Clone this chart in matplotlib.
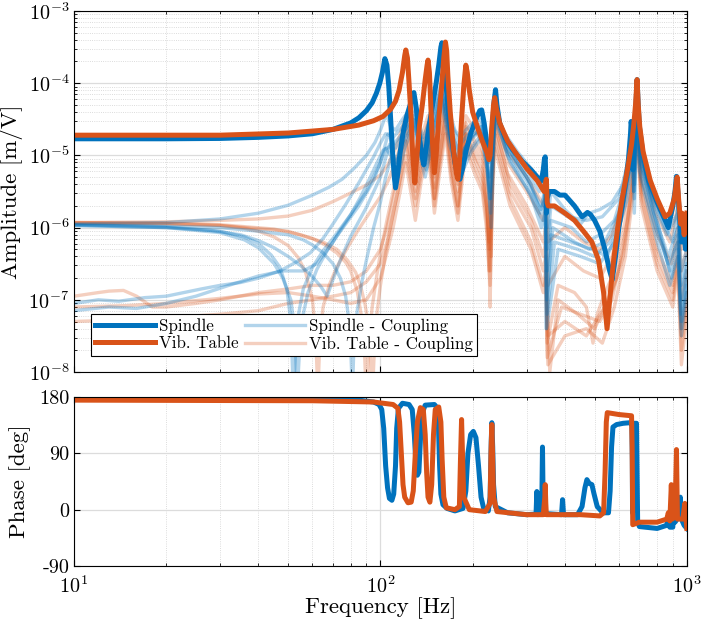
import numpy as np
import matplotlib
matplotlib.use("Agg")
import matplotlib.pyplot as plt
from matplotlib.ticker import LogLocator, NullFormatter, FixedLocator

plt.rcParams['font.family'] = 'serif'
plt.rcParams['font.serif'] = ['cmr10', 'DejaVu Serif']
plt.rcParams['mathtext.fontset'] = 'cm'
plt.rcParams['axes.unicode_minus'] = False
plt.rcParams['axes.formatter.use_mathtext'] = True

BLUE = '#0072BD'
ORANGE = '#D95319'

# ---------------- data: (frequency [Hz], log10 amplitude [m/V]) ----------------
spindle_amp = [(10,-4.77),(20,-4.77),(30,-4.765),(40,-4.75),(50,-4.73),(60,-4.70),(70,-4.64),(80,-4.55),
    (85,-4.48),(90,-4.38),(94,-4.27),(97,-4.14),(99.5,-4.0),(101.5,-3.85),(103.4,-3.66),(105,-3.75),
    (106.5,-4.05),(108,-4.5),(109.5,-4.95),(111,-5.3),(112,-5.45),(113.5,-5.3),(116,-4.95),(119,-4.65),
    (122,-4.45),(125,-4.3),(128.6,-4.13),(131,-4.35),(134,-4.75),(136.5,-5.0),(138.6,-5.13),(141,-4.9),
    (144,-4.6),(148,-4.3),(152,-4.0),(155,-3.75),(157.5,-3.5),(158.7,-3.44),(160.5,-3.6),(163,-3.95),
    (166,-4.3),(170,-4.7),(175,-5.1),(179,-5.3),(181.6,-5.33),(185,-5.2),(190,-4.95),(197,-4.7),(205,-4.5),
    (211,-4.38),(214,-4.37),(218,-4.55),(222,-4.8),(226,-5.0),(229,-4.95),(232,-4.6),(235,-4.25),
    (237.5,-4.09),(240,-4.3),(245,-4.55),(255,-4.75),(270,-4.92),(290,-5.08),(310,-5.2),(325,-5.3),
    (335,-5.35),(340,-5.2),(343,-5.05),(345,-5.02),(346.5,-5.3),(348,-5.8),(350,-5.6),(355,-5.5),(370,-5.5),
    (385,-5.55),(400,-5.55),(410,-5.6),(430,-5.7),(455,-5.85),(465,-5.82),(474,-5.79),(485,-5.82),
    (500,-5.9),(520,-6.05),(540,-6.3),(560,-6.6),(571,-6.72),(585,-6.4),(600,-6.0),(615,-5.7),(630,-5.4),
    (645,-5.05),(655,-4.7),(658,-4.53),(661,-4.6),(664,-5.0),(667,-5.2),(672,-4.95),(678,-4.6),(684,-4.2),
    (688,-3.95),(693,-4.25),(700,-4.6),(720,-5.0),(750,-5.35),(800,-5.65),(850,-5.9),(870,-6.0),(880,-5.9),
    (900,-5.7),(915,-5.5),(925,-5.29),(935,-5.5),(945,-5.8),(960,-6.2),(975,-6.0),(990,-6.3),(1000,-6.07)]
table_amp = [(10,-4.72),(30,-4.72),(50,-4.69),(70,-4.64),(85,-4.58),(95,-4.52),(102,-4.46),(108,-4.36),
    (112,-4.25),(115,-4.1),(118,-3.85),(120,-3.62),(121,-3.54),(122.5,-3.65),(124,-4.0),(126,-4.5),
    (127.5,-5.0),(129.5,-5.38),(131,-5.1),(134,-4.6),(137,-4.3),(140,-3.95),(142,-3.75),(143,-3.68),
    (144.5,-3.85),(146,-4.3),(148,-4.85),(150,-5.24),(152,-5.0),(155,-4.5),(158,-4.1),(161,-3.65),
    (163,-3.43),(164.5,-3.55),(166,-3.9),(169,-4.4),(173,-4.9),(177,-5.25),(179,-5.33),(181,-5.1),
    (184,-4.5),(187,-4.05),(190,-3.75),(192,-3.85),(195,-4.1),(200,-4.4),(207,-4.6),(215,-4.8),(222,-4.95),
    (226,-5.06),(228,-5.0),(231,-4.6),(234,-4.3),(236,-4.2),(239,-4.35),(245,-4.55),(260,-4.8),(280,-5.0),
    (300,-5.18),(325,-5.35),(342,-5.5),(345,-5.4),(348,-5.33),(350,-5.65),(353,-5.7),(370,-5.7),(400,-5.8),
    (430,-5.9),(460,-6.05),(490,-6.2),(515,-6.45),(535,-6.9),(549,-7.4),(560,-7.0),(575,-6.5),(595,-6.0),
    (615,-5.6),(640,-5.2),(660,-4.85),(672,-4.55),(680,-4.3),(688,-3.95),(694,-4.3),(702,-4.6),(720,-4.95),
    (760,-5.35),(800,-5.6),(850,-5.85),(880,-5.8),(910,-5.6),(930,-5.3),(940,-5.6),(955,-5.95),(965,-5.8),
    (980,-6.1),(1000,-5.8)]

spindle_coupling_amp = [
    [(10,-5.95),(20,-5.93),(30,-5.88),(40,-5.8),(50,-5.69),(60,-5.55),(68,-5.44),(75,-5.33),(82,-5.18),
     (90,-5.0),(96,-4.82),(100,-4.65),(103,-4.5),(105,-4.45),(108,-4.6),(112,-4.65),(118,-4.5),(128,-4.3),
     (133,-4.55),(138,-4.75),(144,-4.55),(150,-4.3),(158,-4.0),(163,-4.2),(168,-4.4),(175,-4.65),(182,-4.75),
     (190,-4.65),(200,-4.55),(214,-4.5),(220,-4.75),(226,-5.1),(232,-4.6),(237,-4.3),(250,-4.65),(280,-4.95),
     (320,-5.25),(340,-5.4),(345,-5.15),(350,-6.0),(360,-5.5),(400,-5.75),(450,-5.95),(480,-5.8),(520,-5.75),
     (570,-5.65),(620,-5.4),(645,-5.1),(660,-4.8),(666,-4.6),(670,-5.2),(680,-4.7),(688,-4.25),(700,-4.9),
     (760,-5.5),(850,-6.0),(900,-6.2),(935,-5.7),(955,-6.6),(1000,-6.3)],
    [(10,-5.96),(20,-5.99),(30,-6.05),(36,-6.13),(40,-6.22),(44,-6.38),(47,-6.55),(49.5,-6.85),(51,-7.3),
     (52,-8.3),(53.5,-7.3),(56,-6.85),(60,-6.55),(65,-6.32),(70,-6.15),(80,-5.82),(90,-5.5),(100,-5.1),
     (106,-4.7),(112,-4.9),(120,-4.65),(128,-4.45),(134,-4.75),(140,-5.0),(148,-4.55),(158,-4.1),(168,-4.6),
     (182,-5.0),(198,-4.75),(214,-4.6),(222,-5.0),(228,-5.6),(233,-4.8),(237,-4.35),(260,-4.9),(300,-5.3),
     (335,-5.7),(345,-5.45),(350,-6.6),(360,-5.9),(420,-6.0),(470,-6.2),(520,-6.1),(580,-5.9),(640,-5.3),
     (666,-4.7),(675,-5.4),(688,-4.3),(700,-5.0),(780,-5.8),(870,-6.4),(935,-6.0),(955,-7.0),(1000,-6.5)],
    [(10,-5.97),(20,-6.0),(30,-6.07),(36,-6.17),(40,-6.28),(45,-6.5),(48,-6.7),(51,-7.0),(52.5,-7.4),
     (53.5,-8.3),(55,-7.35),(58,-6.9),(62,-6.58),(67,-6.32),(72,-6.12),(85,-5.7),(95,-5.35),(104,-4.9),
     (112,-5.1),(120,-4.75),(128,-4.5),(135,-4.9),(141,-5.2),(150,-4.6),(158,-4.15),(168,-4.7),(180,-5.1),
     (196,-4.8),(212,-4.65),(222,-5.1),(229,-5.8),(234,-4.9),(237,-4.4),(270,-5.0),(310,-5.4),(333,-5.8),
     (345,-5.5),(349,-7.0),(365,-6.0),(430,-6.2),(480,-6.3),(540,-6.2),(600,-5.8),(650,-5.2),(666,-4.75),
     (674,-5.6),(688,-4.35),(705,-5.1),(800,-6.0),(880,-6.6),(935,-6.1),(955,-7.2),(1000,-6.6)],
    [(10,-5.97),(20,-6.0),(28,-6.04),(35,-6.1),(40,-6.18),(45,-6.28),(50,-6.4),(55,-6.53),(60,-6.68),
     (64,-6.82),(67,-6.95),(70,-6.72),(74,-6.45),(80,-6.12),(90,-5.72),(100,-5.3),(107,-4.85),(113,-5.1),
     (120,-4.8),(128,-4.55),(134,-4.85),(140,-5.1),(148,-4.7),(158,-4.2),(168,-4.75),(182,-5.2),(198,-4.9),
     (214,-4.7),(222,-5.05),(228,-5.5),(233,-4.9),(237,-4.45),(260,-5.0),(300,-5.45),(338,-5.9),(345,-5.7),
     (350,-7.2),(370,-6.2),(440,-6.3),(500,-6.4),(560,-6.2),(620,-5.7),(660,-5.0),(670,-5.5),(688,-4.4),
     (700,-5.2),(790,-6.0),(870,-6.5),(935,-6.2),(960,-7.3),(1000,-6.7)],
    [(10,-5.96),(20,-5.98),(30,-6.0),(40,-6.05),(50,-6.1),(56,-6.17),(60,-6.24),(65,-6.35),(70,-6.5),
     (74,-6.7),(77,-6.95),(79,-7.3),(80.2,-7.8),(81,-8.3),(82,-7.6),(84,-7.15),(87,-6.75),(90,-6.45),
     (95,-6.0),(100,-5.65),(104,-5.3),(108,-5.05),(114,-5.3),(120,-4.9),(128,-4.6),(134,-4.95),(140,-5.3),
     (148,-4.8),(158,-4.25),(168,-4.85),(182,-5.3),(198,-4.95),(214,-4.75),(223,-5.2),(230,-6.0),(234,-5.0),
     (237,-4.5),(265,-5.1),(310,-5.55),(335,-6.0),(345,-5.8),(349,-7.4),(380,-6.3),(450,-6.4),(520,-6.5),
     (580,-6.2),(640,-5.6),(666,-4.9),(674,-5.8),(688,-4.45),(705,-5.3),(800,-6.2),(880,-6.8),(935,-6.4),
     (960,-7.5),(1000,-6.9)],
    [(10,-7.05),(12,-7.0),(14,-7.02),(17,-6.97),(20,-6.95),(26,-6.85),(30,-6.8),(35,-6.76),(40,-6.7),
     (47,-6.6),(53,-6.48),(59,-6.35),(65,-6.15),(70,-5.95),(77,-5.68),(85,-5.38),(95,-5.02),(100,-4.83),
     (104,-4.7),(110,-4.75),(118,-4.6),(128,-4.4),(134,-4.65),(139,-4.85),(148,-4.45),(158,-4.05),(168,-4.5),
     (182,-4.85),(198,-4.65),(214,-4.55),(221,-4.85),(227,-5.3),(232,-4.7),(237,-4.3),(255,-4.8),(290,-5.15),
     (330,-5.5),(345,-5.3),(350,-6.3),(360,-5.7),(410,-5.85),(470,-5.9),(530,-5.85),(600,-5.6),(650,-5.0),
     (666,-4.55),(672,-5.0),(688,-4.2),(700,-4.9),(770,-5.6),(860,-6.1),(935,-5.8),(957,-6.8),(1000,-6.4)],
    [(10,-7.15),(13,-7.1),(16,-7.12),(20,-7.05),(25,-6.95),(32,-6.8),(40,-6.67),(48,-6.6),(56,-6.6),
     (62,-6.5),(66,-6.35),(70,-6.2),(75,-6.0),(80,-5.82),(86,-5.58),(92,-5.33),(97,-5.12),(102,-4.93),
     (110,-4.85),(118,-4.7),(128,-4.5),(134,-4.8),(140,-5.0),(148,-4.6),(158,-4.1),(168,-4.6),(182,-5.0),
     (198,-4.75),(214,-4.6),(222,-5.0),(228,-5.6),(233,-4.85),(237,-4.4),(260,-4.95),(300,-5.35),(334,-5.75),
     (345,-5.6),(347,-7.4),(360,-6.1),(420,-6.2),(490,-6.3),(550,-6.4),(610,-5.9),(655,-5.1),(666,-4.8),
     (672,-5.5),(688,-4.3),(705,-5.1),(800,-5.9),(890,-6.7),(935,-6.3),(958,-7.4),(1000,-6.8)],
]

table_coupling_amp = [
    [(10,-5.93),(20,-5.92),(30,-5.9),(40,-5.88),(50,-5.84),(60,-5.76),(70,-5.64),(80,-5.52),(90,-5.41),
     (100,-5.27),(106,-5.12),(112,-4.9),(117,-4.65),(121,-4.45),(124,-4.6),(127,-4.9),(130,-5.15),(136,-4.75),
     (143,-4.45),(147,-4.85),(150,-5.15),(156,-4.6),(163,-4.2),(170,-4.7),(179,-5.2),(185,-4.8),(190,-4.45),
     (200,-4.6),(210,-4.75),(222,-5.2),(226,-5.5),(230,-6.4),(233,-4.9),(236,-4.4),(255,-4.9),(300,-5.3),
     (342,-5.7),(346,-5.5),(352,-6.2),(400,-6.0),(460,-6.2),(520,-6.3),(570,-6.1),(620,-5.6),(660,-5.0),
     (688,-4.3),(710,-5.0),(780,-5.6),(870,-6.0),(935,-5.5),(960,-6.3),(1000,-6.1)],
    [(10,-5.93),(20,-5.94),(30,-5.97),(36,-6.01),(40,-6.05),(45,-6.13),(50,-6.25),(54,-6.42),(57,-6.62),
     (60,-7.0),(61.5,-7.5),(62.5,-8.3),(63.5,-7.5),(65,-7.1),(68,-6.8),(72,-6.55),(78,-6.28),(85,-6.02),
     (92,-5.8),(100,-5.57),(106,-5.35),(112,-5.1),(117,-4.8),(121,-4.55),(125,-4.85),(130,-5.3),(136,-4.9),
     (143,-4.55),(147,-4.95),(150,-5.3),(156,-4.75),(163,-4.3),(170,-4.85),(179,-5.4),(185,-4.95),(190,-4.55),
     (203,-4.8),(215,-5.0),(222,-5.4),(225,-6.0),(228,-7.1),(232,-5.2),(236,-4.5),(260,-5.1),(300,-5.5),
     (340,-5.9),(346,-5.7),(352,-6.8),(400,-6.4),(460,-6.6),(520,-6.7),(570,-6.4),(620,-5.8),(660,-5.1),
     (688,-4.35),(710,-5.1),(790,-5.8),(880,-6.2),(935,-5.7),(960,-6.6),(1000,-6.3)],
    [(10,-5.93),(20,-5.94),(30,-5.96),(45,-6.02),(55,-6.1),(60,-6.15),(66,-6.24),(72,-6.35),(77,-6.48),
     (80,-6.6),(84,-6.88),(86.5,-7.2),(88.5,-7.6),(90,-8.4),(91.5,-7.6),(94,-7.1),(97,-6.7),(100,-6.35),
     (105,-5.9),(110,-5.5),(116,-5.0),(121,-4.65),(125,-5.0),(130,-5.4),(136,-5.0),(143,-4.6),(147,-5.05),
     (150,-5.45),(156,-4.85),(163,-4.35),(170,-4.95),(179,-5.5),(185,-5.0),(190,-4.6),(203,-4.9),(215,-5.1),
     (222,-5.6),(226,-6.2),(231,-5.2),(236,-4.55),(260,-5.25),(300,-5.7),(340,-6.2),(346,-6.0),(350,-7.6),
     (380,-6.8),(430,-6.9),(470,-7.1),(494,-7.6),(510,-7.2),(530,-7.0),(580,-6.6),(630,-5.9),(665,-5.2),
     (688,-4.45),(710,-5.3),(800,-6.1),(890,-6.5),(935,-6.0),(960,-7.0),(1000,-6.6)],
    [(10,-5.94),(20,-5.95),(30,-5.97),(50,-6.05),(65,-6.2),(72,-6.3),(78,-6.45),(83,-6.62),(86,-6.8),
     (89,-7.05),(91,-7.3),(92.8,-7.8),(94,-8.4),(95.3,-7.8),(97,-7.25),(100,-6.8),(104,-6.35),(109,-5.9),
     (114,-5.5),(118,-5.1),(121,-4.8),(125,-5.2),(130,-5.6),(136,-5.15),(143,-4.7),(147,-5.15),(150,-5.6),
     (156,-5.0),(163,-4.45),(170,-5.1),(179,-5.7),(185,-5.1),(190,-4.7),(203,-5.0),(215,-5.2),(223,-5.8),
     (228,-6.6),(232,-5.3),(236,-4.6),(265,-5.4),(310,-5.9),(340,-6.4),(346,-6.2),(357,-8.0),(380,-7.0),
     (440,-7.2),(500,-7.4),(540,-7.1),(590,-6.7),(640,-5.9),(670,-5.2),(688,-4.55),(710,-5.4),(800,-6.3),
     (900,-6.8),(935,-6.2),(960,-7.4),(1000,-6.9)],
    [(10,-6.95),(12,-6.9),(13,-6.88),(14.5,-6.87),(16,-6.95),(18,-7.1),(20,-7.1),(25,-7.05),(30,-7.0),
     (40,-6.9),(50,-6.85),(60,-6.8),(70,-6.8),(80,-6.75),(90,-6.6),(100,-6.3),(105,-6.0),(110,-5.6),
     (116,-5.15),(121,-4.8),(125,-5.1),(130,-5.5),(136,-5.1),(143,-4.8),(147,-5.2),(150,-5.6),(156,-5.05),
     (163,-4.5),(170,-5.15),(179,-5.7),(185,-5.15),(190,-4.7),(203,-5.05),(215,-5.3),(222,-5.7),(227,-6.3),
     (232,-5.3),(236,-4.7),(265,-5.5),(310,-6.0),(340,-6.6),(346,-6.4),(350,-7.8),(390,-7.1),(450,-7.2),
     (520,-7.3),(570,-7.0),(620,-6.3),(660,-5.5),(688,-4.6),(710,-5.5),(800,-6.4),(900,-6.9),(935,-6.4),
     (960,-7.5),(1000,-7.0)],
    [(10,-7.3),(14,-7.28),(20,-7.25),(30,-7.2),(40,-7.15),(50,-7.05),(60,-7.0),(70,-6.95),(80,-6.9),
     (90,-6.75),(100,-6.5),(105,-6.2),(110,-5.8),(116,-5.35),(121,-5.0),(125,-5.3),(130,-5.7),(136,-5.25),
     (143,-4.9),(147,-5.3),(150,-5.7),(156,-5.15),(163,-4.6),(170,-5.25),(179,-5.8),(185,-5.25),(190,-4.8),
     (203,-5.15),(215,-5.4),(222,-5.9),(226,-6.6),(231,-5.5),(236,-4.8),(265,-5.6),(310,-6.2),(340,-6.8),
     (346,-6.6),(352,-7.5),(400,-7.3),(470,-7.5),(520,-7.2),(560,-7.0),(620,-6.4),(660,-5.6),(688,-4.7),
     (710,-5.6),(800,-6.5),(900,-7.0),(935,-6.5),(960,-7.7),(1000,-7.1)],
    [(10,-7.1),(15,-7.08),(20,-7.05),(30,-6.98),(40,-6.92),(50,-6.9),(60,-6.95),(70,-7.0),(80,-7.05),
     (90,-7.0),(100,-6.7),(105,-6.35),(110,-6.0),(116,-5.5),(121,-5.1),(125,-5.45),(130,-5.9),(136,-5.35),
     (143,-5.0),(147,-5.4),(150,-5.8),(156,-5.25),(163,-4.7),(170,-5.35),(179,-5.9),(185,-5.35),(190,-4.9),
     (203,-5.25),(215,-5.5),(223,-6.1),(228,-6.8),(232,-5.6),(236,-4.9),(265,-5.7),(310,-6.3),(340,-6.9),
     (346,-6.7),(352,-7.9),(400,-7.5),(470,-7.4),(530,-7.6),(580,-7.1),(630,-6.4),(665,-5.6),(688,-4.75),
     (710,-5.7),(800,-6.6),(900,-7.1),(935,-6.6),(960,-7.9),(1000,-7.2)],
]

# (frequency [Hz], phase [deg])
spindle_phase = [(10,178),(60,177),(85,175),(95,172),(99,168),(101,160),(102.5,130),(104,70),(105.5,35),
    (107,18),(109,15),(110.5,25),(112,70),(113,130),(114.5,162),(118,170),(124,168),(127,160),(129,120),
    (130.5,75),(132,55),(133.5,60),(135,110),(137,155),(140,167),(150,168),(153,163),(154.5,140),(156,70),
    (157.5,25),(160,8),(165,2),(175,-2),(186,2),(190,30),(193,90),(197,120),(201,125),(205,115),(209,70),
    (213,20),(217,3),(225,-2),(228,20),(230,110),(231,139),(232.5,100),(234,40),(237,5),(260,-5),(300,-8),
    (322,-7),(324,29),(326,-8),(336,-6),(338,100),(340,-6),(390,-8),(393,16),(396,-8),(440,-8),(455,5),
    (465,35),(472,48),(480,42),(490,40),(498,25),(510,5),(532,-5),(555,-5),(562,30),(568,100),(574,132),
    (590,136),(620,138),(655,139),(662,135),(664,80),(665,-5),(666,70),(668,138),(685,138),(688,60),
    (691,-20),(700,-27),(800,-30),(860,-25),(870,-10),(880,-28),(900,-28),(908,15),(915,-20),(945,-10),
    (952,20),(960,-15),(980,-25),(1000,-30)]
table_phase = [(10,175),(60,174),(95,172),(110,168),(114,162),(115.5,140),(117,90),(118.5,40),(120,20),
    (123,11),(126,12),(128,30),(130,90),(132,140),(135,163),(138,160),(140,120),(141.5,60),(143,20),
    (145,12),(147,40),(149,120),(151,160),(155,164),(157.5,140),(159,80),(161,20),(164,3),(175,0),(181,5),
    (182.5,80),(184,144),(185.5,80),(187,20),(195,0),(220,-3),(228,10),(229.5,90),(231,136),(232.5,80),
    (234,20),(240,-3),(300,-8),(340,-8),(344,20),(345,40),(346.5,10),(348,-8),(450,-8),(520,-10),(535,-5),
    (541,60),(546,140),(550,155),(600,152),(660,150),(663,100),(666,-24),(700,-20),(800,-20),(860,-15),
    (870,-5),(880,-18),(890,40),(897,-15),(915,-10),(925,96),(932,-15),(970,-15),(985,10),(992,-10),
    (1000,-30)]

# ---------------- figure ----------------
fig = plt.figure(figsize=(7.03, 6.25), dpi=100)
ax1 = fig.add_axes([0.1053, 0.4048, 0.8717, 0.5776])
ax2 = fig.add_axes([0.1053, 0.0944, 0.8717, 0.2704])


def fa(curve):
    f = np.array([p[0] for p in curve], dtype=float)
    v = np.array([p[1] for p in curve], dtype=float)
    return f, v


for i, c in enumerate(table_coupling_amp):
    f, v = fa(c)
    ax1.plot(f, 10.0 ** v, color=ORANGE, alpha=0.28, lw=2.4, solid_joinstyle='round',
             label='Vib. Table - Coupling' if i == 0 else None)
for i, c in enumerate(spindle_coupling_amp):
    f, v = fa(c)
    ax1.plot(f, 10.0 ** v, color=BLUE, alpha=0.3, lw=2.4, solid_joinstyle='round',
             label='Spindle - Coupling' if i == 0 else None)

f, v = fa(spindle_amp)
ax1.plot(f, 10.0 ** v, color=BLUE, lw=3.6, solid_joinstyle='round', label='Spindle')
f, v = fa(table_amp)
ax1.plot(f, 10.0 ** v, color=ORANGE, lw=3.6, solid_joinstyle='round', label='Vib. Table')

f, v = fa(spindle_phase)
ax2.plot(f, v, color=BLUE, lw=3.6, solid_joinstyle='round')
f, v = fa(table_phase)
ax2.plot(f, v, color=ORANGE, lw=3.6, solid_joinstyle='round')

for ax in (ax1, ax2):
    ax.set_xscale('log')
    ax.set_xlim(10, 1000)
    ax.grid(True, which='major', color='#dcdcdc', lw=0.9)
    ax.grid(True, which='minor', color='#d0d0d0', lw=0.6, ls=':')
    ax.tick_params(which='both', direction='in', top=True, right=True, labelsize=14.5)
    ax.tick_params(which='major', length=4.5, width=0.8)
    ax.tick_params(which='minor', length=2.5, width=0.6)
    for s in ax.spines.values():
        s.set_linewidth(0.8)

ax1.set_yscale('log')
ax1.set_ylim(1e-8, 1e-3)
ax1.yaxis.set_minor_locator(LogLocator(base=10, subs=np.arange(2, 10), numticks=20))
ax1.yaxis.set_minor_formatter(NullFormatter())
ax1.xaxis.set_major_formatter(NullFormatter())
ax1.xaxis.set_minor_formatter(NullFormatter())
ax1.set_ylabel('Amplitude [m/V]', fontsize=16.5, labelpad=4)

ax2.set_ylim(-90, 180)
ax2.yaxis.set_major_locator(FixedLocator([-90, 0, 90, 180]))
ax2.set_yticklabels(['-90', '0', '90', '180'])
ax2.xaxis.set_minor_formatter(NullFormatter())
ax2.tick_params(axis='x', which='major', pad=7)
ax2.set_ylabel('Phase [deg]', fontsize=16.5, labelpad=6)
ax2.set_xlabel('Frequency [Hz]', fontsize=16.5, labelpad=0)

handles, labels = ax1.get_legend_handles_labels()
order = ['Spindle', 'Vib. Table', 'Spindle - Coupling', 'Vib. Table - Coupling']
hmap = dict(zip(labels, handles))
leg = ax1.legend([hmap[k] for k in order], order, loc='lower left', ncol=2, fontsize=12.2,
                 bbox_to_anchor=(0.025, 0.04), frameon=True, fancybox=False, framealpha=1,
                 edgecolor='black', handlelength=3.5, borderpad=0.25, labelspacing=0.12,
                 columnspacing=0.4, handletextpad=0.25, borderaxespad=0.1)
leg.get_frame().set_linewidth(0.8)

fig.savefig('out.png', dpi=100)
